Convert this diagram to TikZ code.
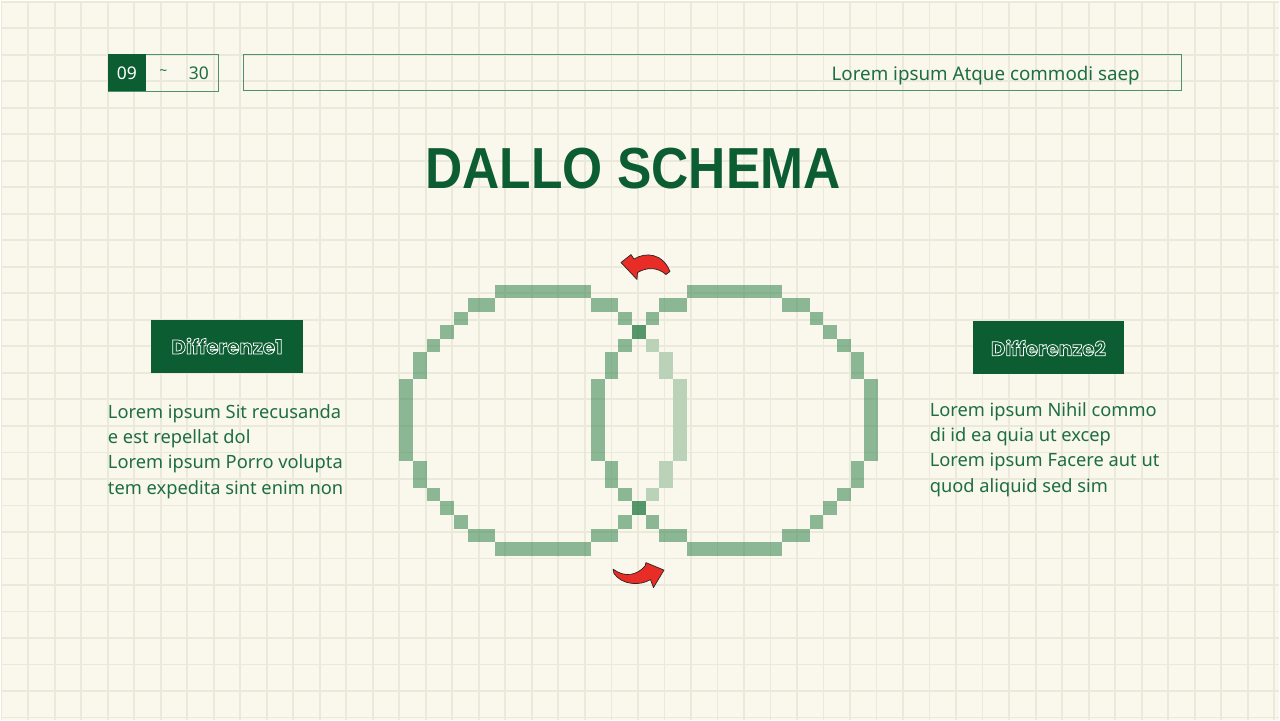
\documentclass[tikz,border=0pt]{standalone}
\usepackage{fontspec}
\setmainfont{Noto Sans}
\newfontfamily\titlefont{Liberation Sans}
\newfontfamily\tagfont{Poppins}
\usepackage{tikz}

\definecolor{cream}{RGB}{250,248,236}
\definecolor{gridc}{RGB}{235,233,218}
\definecolor{dkgreen}{RGB}{12,94,50}
\definecolor{txtgreen}{RGB}{30,110,66}
\definecolor{linegreen}{RGB}{78,146,106}
\definecolor{ringc}{RGB}{32,120,64}
\definecolor{arrowred}{RGB}{232,44,38}

% hollow letters: stroke only
\newcommand{\hollow}[1]{\special{pdf:literal q 1 Tr 0.75 w}#1\special{pdf:literal Q}}

\begin{document}
\begin{tikzpicture}[x=1pt,y=-1pt,
  gridline/.style={draw=gridc,line width=1.8pt},
  ringpix/.style={fill=ringc,fill opacity=0.5},
  fadepix/.style={fill=ringc!30!cream},
  redarrow/.style={fill=arrowred,draw=black!85,line width=0.7pt,line join=round},
  tagbox/.style={fill=dkgreen,text=white,minimum width=152pt,minimum height=53pt,inner sep=0pt,font=\tagfont\bfseries\fontsize{20}{20}\selectfont},
  bodytext/.style={anchor=north west,align=left,inner sep=0pt,text=txtgreen,font=\fontsize{18.3}{25.2}\selectfont}]

  % Background and grid
  \fill[cream] (0,0) rectangle (1280,720);
  \foreach \i in {0,...,48}
    \draw[gridline] (\i*26.55+0.7,0) -- (\i*26.55+0.7,720);
  \foreach \j in {0,...,27}
    \draw[gridline] (0,\j*26.55+0.8) -- (1280,\j*26.55+0.8);
  \useasboundingbox (0,0) rectangle (1280,720);

  % Page number
  \draw[linegreen,line width=0.8pt] (107.3,53.3) rectangle (217.7,90.7);
  \node[fill=dkgreen,text=white,minimum width=37.7pt,minimum height=37.4pt,inner sep=0pt,
    font=\fontsize{17.5}{17.5}\selectfont] (pgfrom) at (126.2,72) {09};
  \node[text=txtgreen,font=\fontsize{14}{14}\selectfont] (pgtilde) at (162.7,72) {\textasciitilde};
  \node[text=txtgreen,font=\fontsize{17.5}{17.5}\selectfont] (pgto) at (198.3,72) {30};

  % Header bar
  \draw[linegreen,line width=0.8pt] (243.3,53.3) rectangle (1182,90);
  \node[anchor=base east,inner sep=0pt,text=txtgreen,font=\fontsize{18.8}{18.8}\selectfont]
    (header) at (1140.7,79.3) {Lorem ipsum Atque commodi saep};

  % Title
  \node[anchor=base,inner sep=0pt,xscale=0.89,text=dkgreen,font=\titlefont\bfseries\fontsize{58}{58}\selectfont]
    (title) at (633,188.3) {DALLO SCHEMA};

  % Pixel rings
  \begin{scope}[xshift=399pt,yshift=-284pt,x=13.7pt,y=-13.58pt]
    % left ring
    \fill[ringpix] (7,0) rectangle ++(7,1);
    \fill[ringpix] (7,19) rectangle ++(7,1);
    \foreach \r/\d in {1/4,1/5,2/6,3/7,4/8,5/9,6/9,7/10,8/10,9/10,10/10,11/10,12/10,
                       13/9,14/9,15/8,16/7,17/6,18/4,18/5} {
      \fill[ringpix] (10-\d,\r) rectangle ++(1,1);
      \pgfmathtruncatemacro{\cc}{10+\d}
      \ifnum\cc>17
        \fill[fadepix] (\cc,\r) rectangle ++(1,1);
      \else
        \fill[ringpix] (\cc,\r) rectangle ++(1,1);
      \fi
    }
    % right ring
    \fill[ringpix] (21,0) rectangle ++(7,1);
    \fill[ringpix] (21,19) rectangle ++(7,1);
    \foreach \r/\d in {1/4,1/5,2/6,3/7,4/8,5/9,6/9,7/10,8/10,9/10,10/10,11/10,12/10,
                       13/9,14/9,15/8,16/7,17/6,18/4,18/5} {
      \fill[ringpix] (24-\d,\r) rectangle ++(1,1);
      \fill[ringpix] (24+\d,\r) rectangle ++(1,1);
    }
  \end{scope}

  % Swap arrows
  \filldraw[redarrow] (621,262) -- (631,254) -- (634,258.5)
    .. controls (646,251) and (663,253) .. (670,271)
    -- (666,274) .. controls (657,266) and (646,267) .. (637.5,272)
    -- (637,279) -- cycle;
  \filldraw[redarrow] (613,569) .. controls (625,578) and (637,575) .. (645,566)
    -- (646,562.5) -- (664,570) -- (653.5,587.5) -- (650.5,579.5)
    .. controls (640,586) and (622,585) .. (614,573.5) -- cycle;

  % Left side
  \node[tagbox] (tagleft) at (226.5,345.7) {\hollow{Differenze1}};
  \node[bodytext] (textleft) at (107,404.2)
    {Lorem ipsum Sit recusanda\\e est repellat dol\\Lorem ipsum Porro volupta\\tem expedita sint enim non};

  % Right side
  \node[tagbox] (tagright) at (1049,347.5) {\hollow{Differenze2}};
  \node[bodytext] (textright) at (930,402.2)
    {Lorem ipsum Nihil commo\\di id ea quia ut excep\\Lorem ipsum Facere aut ut\\quod aliquid sed sim};

\end{tikzpicture}
\end{document}
